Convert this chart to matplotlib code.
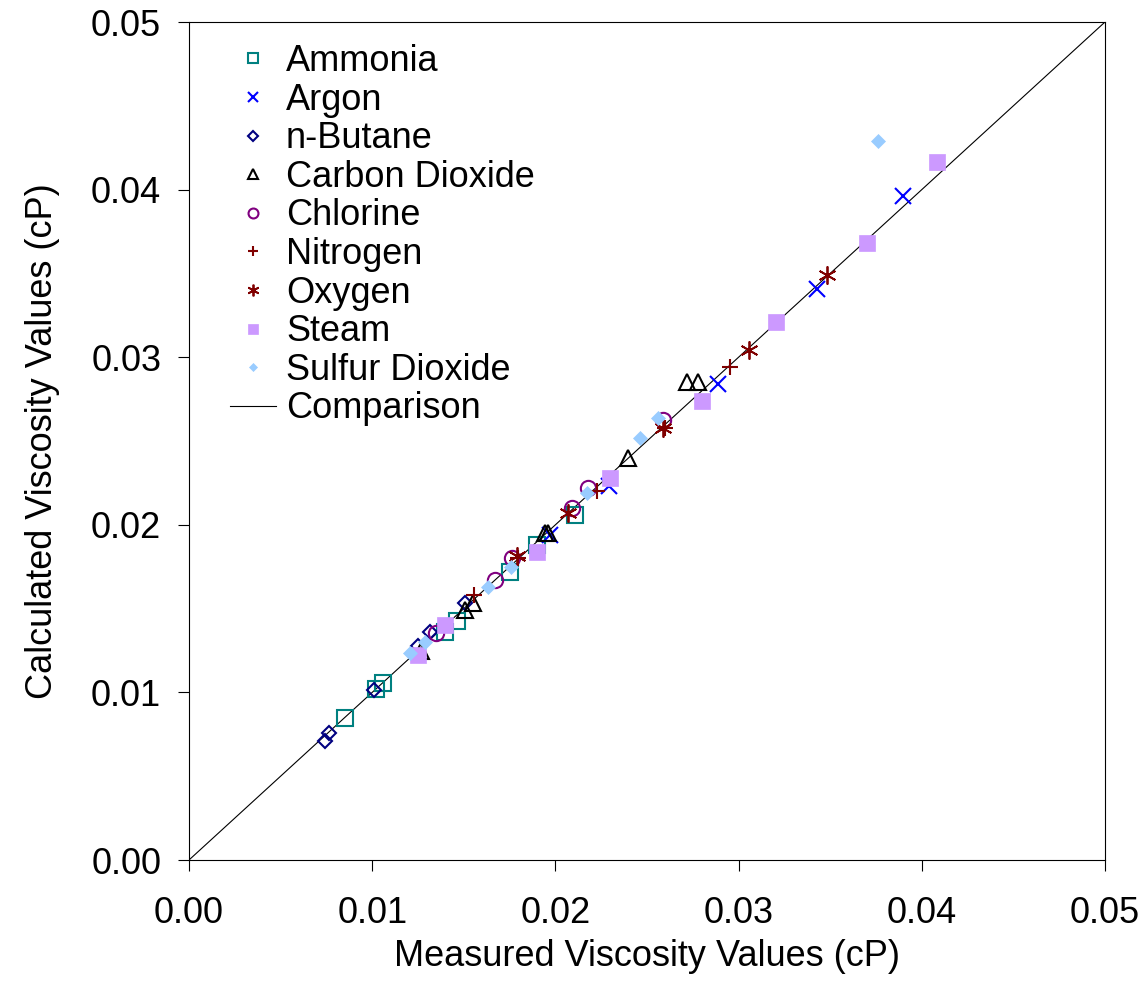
import matplotlib
matplotlib.use("Agg")
import matplotlib.pyplot as plt

plt.rcParams['font.family'] = ['Liberation Sans', 'DejaVu Sans']

# Measured vs calculated gas viscosities (cP)
ammonia_x = [0.00852, 0.01021, 0.01059, 0.01397, 0.01463, 0.01752, 0.01900, 0.02107]
ammonia_y = [0.00847, 0.01020, 0.01056, 0.01360, 0.01426, 0.01718, 0.01879, 0.02058]

argon_x = [0.01971, 0.02293, 0.02888, 0.03428, 0.03897]
argon_y = [0.01939, 0.02231, 0.02840, 0.03407, 0.03962]

butane_x = [0.00742, 0.00764, 0.01010, 0.01250, 0.01316, 0.01507]
butane_y = [0.00710, 0.00758, 0.01014, 0.01277, 0.01360, 0.01533]

co2_x = [0.01266, 0.01507, 0.01550, 0.01943, 0.01960, 0.02396, 0.02718, 0.02778]
co2_y = [0.01247, 0.01492, 0.01533, 0.01951, 0.01951, 0.02399, 0.02852, 0.02852]

chlorine_x = [0.01348, 0.01670, 0.01762, 0.02091, 0.02178, 0.02587]
chlorine_y = [0.01354, 0.01671, 0.01802, 0.02100, 0.02220, 0.02625]

nitrogen_x = [0.01556, 0.01796, 0.02227, 0.02598, 0.02953]
nitrogen_y = [0.01581, 0.01802, 0.02202, 0.02578, 0.02942]

oxygen_x = [0.01790, 0.02069, 0.02587, 0.03057, 0.03483]
oxygen_y = [0.01814, 0.02070, 0.02578, 0.03043, 0.03490]

steam_x = [0.01250, 0.01397, 0.01900, 0.02298, 0.02800, 0.03204, 0.03701, 0.04083]
steam_y = [0.01223, 0.01402, 0.01838, 0.02279, 0.02739, 0.03210, 0.03681, 0.04165]

so2_x = [0.01206, 0.01288, 0.01632, 0.01758, 0.02172, 0.02462, 0.02560, 0.03761]
so2_y = [0.01235, 0.01301, 0.01629, 0.01748, 0.02190, 0.02518, 0.02637, 0.04290]

comparison = [0.0, 0.05]

ticks = [0.00, 0.01, 0.02, 0.03, 0.04, 0.05]
tick_labels = ["0.00", "0.01", "0.02", "0.03", "0.04", "0.05"]

fig = plt.figure(figsize=(11.45, 10.02), dpi=100)
ax = fig.add_axes([189 / 1145, 1 - 860 / 1002, (1105 - 189) / 1145, (860 - 22) / 1002])

ew = 1.5
series = [
    ("Ammonia", ammonia_x, ammonia_y, dict(marker='s', ms=11, mfc='none', mec='#008080', mew=ew)),
    ("Argon", argon_x, argon_y, dict(marker='x', ms=12, mec='#0000FF', mew=ew)),
    ("n-Butane", butane_x, butane_y, dict(marker='D', ms=7.5, mfc='none', mec='#000080', mew=ew)),
    ("Carbon Dioxide", co2_x, co2_y, dict(marker='^', ms=12, mfc='none', mec='#000000', mew=ew)),
    ("Chlorine", chlorine_x, chlorine_y, dict(marker='o', ms=11, mfc='none', mec='#800080', mew=ew)),
    ("Nitrogen", nitrogen_x, nitrogen_y, dict(marker='+', ms=12, mec='#800000', mew=ew)),
    ("Oxygen", oxygen_x, oxygen_y, dict(marker=(6, 2, 0), ms=13, mec='#800000', mew=1.3)),
    ("Steam", steam_x, steam_y, dict(marker='s', ms=11, mfc='#CC99FF', mec='#CC99FF', mew=0.5)),
    ("Sulfur Dioxide", so2_x, so2_y, dict(marker='D', ms=7, mfc='#99CCFF', mec='#99CCFF', mew=0.5)),
]

ax.plot(comparison, comparison, color='black', lw=0.8, zorder=1, label="_nolegend_")
handles = []
for name, xs, ys, style in series:
    h, = ax.plot(xs, ys, linestyle='none', label=name, zorder=3, **style)
    handles.append(h)
line_handle, = ax.plot([], [], color='black', lw=0.8, label="Comparison")
handles.append(line_handle)

ax.set_xlim(0, 0.05)
ax.set_ylim(0, 0.05)
ax.set_xticks(ticks)
ax.set_xticklabels(tick_labels)
ax.set_yticks(ticks)
ax.set_yticklabels(tick_labels)
ax.tick_params(direction='out', length=8, width=0.8, labelsize=26, top=False, right=False)
ax.tick_params(axis='y', pad=12)
ax.tick_params(axis='x', pad=18)
for sp in ax.spines.values():
    sp.set_linewidth(0.8)

ax.set_xlabel("Measured Viscosity Values (cP)", fontsize=26, labelpad=6)
ax.set_ylabel("Calculated Viscosity Values (cP)", fontsize=26, labelpad=22)

leg = ax.legend(handles=handles, loc='upper left', bbox_to_anchor=(230 / 1145, 1 - 44 / 1002),
                bbox_transform=fig.transFigure, frameon=False, fontsize=26,
                markerscale=0.65, handlelength=1.27, handletextpad=0.28,
                labelspacing=0.1, borderpad=0, borderaxespad=0)

fig.savefig("out.png", dpi=100)
